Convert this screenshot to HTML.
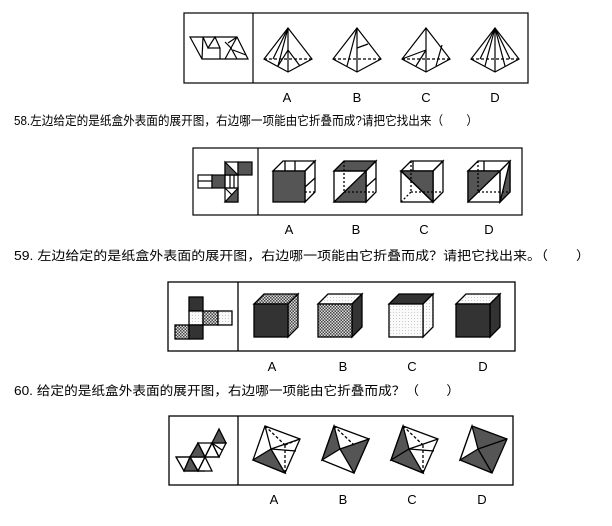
<!DOCTYPE html>
<html><head><meta charset="utf-8"><style>body{margin:0;background:#fff}svg{display:block}</style></head><body>
<svg width="612" height="526" xmlns="http://www.w3.org/2000/svg" font-family="Liberation Sans, Noto Sans CJK SC, sans-serif">
<defs>
<pattern id="chk" width="3" height="3" patternUnits="userSpaceOnUse"><rect width="3" height="3" fill="#ddd"/><rect width="1.5" height="1.5" fill="#444"/><rect x="1.5" y="1.5" width="1.5" height="1.5" fill="#444"/></pattern>
<pattern id="dot" width="3" height="3" patternUnits="userSpaceOnUse"><rect width="3" height="3" fill="#fafafa"/><rect width="1" height="1" fill="#ccc"/></pattern>
</defs>
<g fill="none" stroke="#000" stroke-width="1.2">
<!-- box1 -->
<rect x="184" y="13" width="344" height="70"/><line x1="253" y1="13" x2="253" y2="83"/>
<polygon points="190,37 237,37 248,59 202,59"/>
<polyline points="202,59 203,37 208,48 215,37 220,48 220,59"/><line x1="208" y1="48" x2="220" y2="48"/>
<polyline points="225,59 231,48 237,37"/><polyline points="225,42 231,48 237,59"/><line x1="233" y1="50" x2="246" y2="55"/><line x1="228" y1="43" x2="237" y2="37"/>
<g id="pyr"><polygon points="288,28 312,59 288,72 264,59"/><line x1="264" y1="59" x2="312" y2="59" stroke-dasharray="3,2"/><line x1="288" y1="28" x2="288" y2="72"/></g>
<line x1="288" y1="28" x2="273" y2="59"/><line x1="288" y1="28" x2="278" y2="66"/><polyline points="278,66 288,50 300,66"/>
<polygon points="357,28 381,59 357,72 333,59"/><line x1="333" y1="59" x2="381" y2="59" stroke-dasharray="3,2"/><line x1="357" y1="28" x2="357" y2="72"/><line x1="357" y1="28" x2="347" y2="66"/><line x1="357" y1="48" x2="368" y2="44"/>
<polygon points="426,28 450,59 426,72 402,59"/><line x1="402" y1="59" x2="450" y2="59" stroke-dasharray="3,2"/><line x1="426" y1="28" x2="426" y2="72"/><line x1="402" y1="59" x2="426" y2="50"/><line x1="416" y1="66" x2="426" y2="50"/><line x1="436" y1="66" x2="442" y2="45"/>
<polygon points="495,28 519,59 495,72 471,59"/><line x1="471" y1="59" x2="519" y2="59" stroke-dasharray="3,2"/><line x1="495" y1="28" x2="495" y2="72"/><line x1="495" y1="28" x2="480" y2="59"/><line x1="495" y1="28" x2="485" y2="66"/><line x1="495" y1="28" x2="505" y2="66"/><line x1="495" y1="28" x2="510" y2="59"/>
<!-- box2 -->
<rect x="193" y="148" width="329" height="67"/><line x1="258" y1="148" x2="258" y2="215"/>
<rect x="198" y="175" width="14" height="13"/><line x1="198" y1="181" x2="212" y2="181"/>
<rect x="212" y="175" width="13" height="13" fill="#555"/><rect x="225" y="175" width="13" height="13"/><line x1="230" y1="175" x2="230" y2="188"/><line x1="234" y1="175" x2="234" y2="188"/>
<rect x="225" y="162" width="13" height="13"/><polygon points="225,162 238,175 225,175" fill="#555"/>
<rect x="238" y="162" width="14" height="13" fill="#555"/>
<rect x="225" y="188" width="13" height="14"/><polygon points="225,202 238,188 238,202" fill="#555"/><line x1="225" y1="188" x2="232" y2="195"/>
</g>
<g fill="none" stroke="#000" stroke-width="1.3">
<!-- cubes box2 -->
<polygon points="273,171 283,161 315,161 305,171"/><polygon points="305,171 315,161 315,192 305,202"/><rect x="273" y="171" width="32" height="31" fill="#555"/><line x1="285" y1="161" x2="285" y2="171"/><line x1="295" y1="161" x2="295" y2="171"/><line x1="305" y1="187" x2="315" y2="178"/><line x1="305" y1="192" x2="315" y2="192" stroke-dasharray="2,2"/>
<polygon points="334,171 344,161 376,161 366,171" fill="#555"/><polygon points="366,171 376,161 376,192 366,202"/><rect x="334" y="171" width="32" height="31"/><polygon points="334,202 366,171 366,202" fill="#555"/><line x1="344" y1="161" x2="344" y2="192" stroke-dasharray="2,2"/><line x1="344" y1="192" x2="376" y2="192" stroke-dasharray="2,2"/><line x1="366" y1="187" x2="376" y2="178"/>
<polygon points="401,171 411,161 443,161 433,171"/><polygon points="433,171 443,161 443,192 433,202"/><rect x="401" y="171" width="32" height="31"/><polygon points="401,171 433,171 433,202" fill="#555"/><line x1="401" y1="171" x2="433" y2="202"/><line x1="411" y1="161" x2="411" y2="192" stroke-dasharray="2,2"/><line x1="401" y1="202" x2="411" y2="192" stroke-dasharray="2,2"/><line x1="411" y1="192" x2="443" y2="192" stroke-dasharray="2,2"/><line x1="413" y1="161" x2="413" y2="171"/>
<polygon points="468,171 478,161 510,161 500,171"/><polygon points="500,171 510,161 510,192 500,202"/><rect x="468" y="171" width="32" height="31"/><polygon points="468,202 468,171 500,171" fill="#555"/><polygon points="500,202 510,161 510,192" fill="#555"/><line x1="484" y1="161" x2="484" y2="171"/><line x1="478" y1="161" x2="478" y2="192" stroke-dasharray="2,2"/><line x1="478" y1="192" x2="510" y2="192" stroke-dasharray="2,2"/>
<!-- box3 -->
<rect x="168" y="282" width="347" height="69"/><line x1="238" y1="282" x2="238" y2="351"/>
<rect x="189" y="297" width="14" height="14" fill="#333"/>
<rect x="189" y="311" width="14" height="14" fill="url(#dot)"/><rect x="203" y="311" width="15" height="14" fill="url(#chk)"/><rect x="218" y="311" width="14" height="14" fill="url(#dot)"/>
<rect x="175" y="325" width="14" height="14" fill="url(#chk)"/><rect x="189" y="325" width="14" height="14" fill="#333"/>
<polygon points="254,304 264,294 298,294 288,304" fill="url(#chk)"/><polygon points="288,304 298,294 298,327 288,337" fill="url(#chk)"/><rect x="254" y="304" width="34" height="33" fill="#333"/>
<polygon points="318,304 328,294 362,294 352,304" fill="url(#dot)"/><polygon points="352,304 362,294 362,327 352,337" fill="#333"/><rect x="318" y="304" width="34" height="33" fill="url(#chk)"/>
<polygon points="389,304 399,294 433,294 423,304" fill="#333"/><polygon points="423,304 433,294 433,327 423,337" fill="url(#dot)"/><rect x="389" y="304" width="34" height="33" fill="url(#dot)"/>
<polygon points="456,304 466,294 500,294 490,304" fill="url(#dot)"/><polygon points="490,304 500,294 500,327 490,337" fill="#333"/><rect x="456" y="304" width="34" height="33" fill="#333"/>
<!-- box4 -->
<rect x="169" y="416" width="344" height="69"/><line x1="238" y1="416" x2="238" y2="485"/>
<polyline points="176,457 218,457"/><polyline points="184,471 205,471"/>
<polygon points="176,457 184,471 190,457"/><polygon points="184,471 190,457 198,471" fill="#555"/><polygon points="190,457 198,471 205,457"/><polygon points="198,471 205,457 212,471"/>
<polygon points="198,443 190,457 205,457" fill="#555"/><polygon points="198,443 212,443 205,457"/><polygon points="212,443 219,457 205,457"/><polygon points="212,443 226,443 219,457"/><polygon points="219,429 212,443 226,443" fill="#555"/><line x1="212" y1="443" x2="222" y2="450"/>
<g id="oct"><polygon points="265,426 300,439 285,473 253,460"/></g>
<polygon points="253,460 271,449 285,473" fill="#555"/><line x1="265" y1="426" x2="271" y2="449"/><line x1="271" y1="449" x2="300" y2="439"/><line x1="265" y1="426" x2="285" y2="445" stroke-dasharray="3,2"/><line x1="285" y1="445" x2="300" y2="439" stroke-dasharray="3,2"/><line x1="285" y1="445" x2="285" y2="473" stroke-dasharray="3,2"/><line x1="271" y1="449" x2="296" y2="451"/>
<polygon points="334,426 369,439 354,473 322,460"/><polygon points="334,426 340,449 322,460" fill="#555"/><polygon points="340,449 369,439 354,473" fill="#555"/><line x1="334" y1="426" x2="354" y2="445" stroke-dasharray="3,2"/>
<polygon points="403,426 438,439 423,473 391,460"/><polygon points="403,426 409,449 391,460" fill="#555"/><polygon points="391,460 409,449 423,473" fill="#555"/><line x1="409" y1="449" x2="438" y2="439"/><line x1="403" y1="426" x2="423" y2="445" stroke-dasharray="3,2"/><line x1="423" y1="445" x2="423" y2="473" stroke-dasharray="3,2"/><line x1="409" y1="449" x2="434" y2="451"/>
<polygon points="472,426 507,439 492,473 460,460" fill="#555"/><polygon points="472,426 478,449 460,460" fill="#fff"/><line x1="478" y1="449" x2="507" y2="439"/><line x1="478" y1="449" x2="492" y2="473"/>
</g>
<g font-size="13" text-anchor="middle">
<text x="287" y="102">A</text><text x="357" y="102">B</text><text x="426" y="102">C</text><text x="495" y="102">D</text>
<text x="289" y="234">A</text><text x="356" y="234">B</text><text x="424" y="234">C</text><text x="489" y="234">D</text>
<text x="272" y="371">A</text><text x="343" y="371">B</text><text x="412" y="371">C</text><text x="483" y="371">D</text>
<text x="274" y="504">A</text><text x="343" y="504">B</text><text x="412" y="504">C</text><text x="482" y="504">D</text>
</g>
<g font-size="12.5">
<text x="14" y="125" textLength="464" lengthAdjust="spacingAndGlyphs">58.左边给定的是纸盒外表面的展开图，右边哪一项能由它折叠而成?请把它找出来（　　）</text>
<text x="14" y="260" textLength="576" lengthAdjust="spacingAndGlyphs">59.  左边给定的是纸盒外表面的展开图，右边哪一项能由它折叠而成？请把它找出来。（　　）</text>
<text x="14" y="395" textLength="446" lengthAdjust="spacingAndGlyphs">60.  给定的是纸盒外表面的展开图，右边哪一项能由它折叠而成？（　　）</text>
</g>
</svg>
</body></html>
